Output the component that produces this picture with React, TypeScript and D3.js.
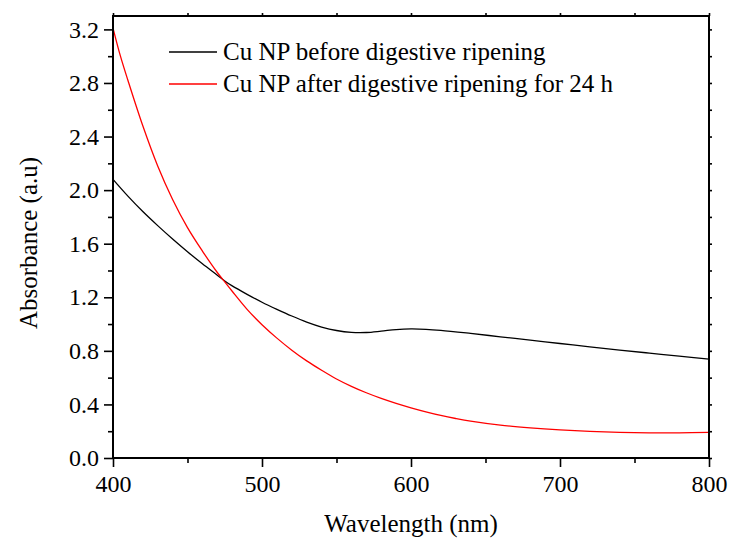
import React, { useEffect, useRef } from "react";
import * as d3 from "d3";

// wavelength (nm) and absorbance
const beforeWavelength = [400, 410, 420, 430, 440, 450, 460, 470, 475, 480, 490, 500, 510, 520, 530, 540, 550, 560, 570, 580, 590, 600, 610, 620, 640, 660, 680, 700, 720, 740, 760, 780, 800];
const beforeAbsorbance = [2.08, 1.955, 1.84, 1.735, 1.635, 1.54, 1.45, 1.365, 1.322, 1.285, 1.222, 1.163, 1.11, 1.06, 1.015, 0.978, 0.952, 0.938, 0.937, 0.947, 0.959, 0.964, 0.961, 0.953, 0.93, 0.905, 0.88, 0.855, 0.83, 0.806, 0.783, 0.76, 0.738];

const afterWavelength = [400, 405, 410, 420, 430, 440, 450, 460, 470, 475, 480, 490, 500, 510, 520, 530, 540, 550, 560, 570, 580, 590, 600, 610, 620, 630, 640, 660, 680, 700, 720, 740, 760, 780, 800];
const afterAbsorbance = [3.21, 3.0, 2.82, 2.48, 2.18, 1.93, 1.72, 1.545, 1.385, 1.315, 1.245, 1.11, 0.995, 0.895, 0.805, 0.725, 0.655, 0.59, 0.535, 0.487, 0.445, 0.408, 0.375, 0.345, 0.318, 0.295, 0.275, 0.245, 0.225, 0.21, 0.199, 0.192, 0.188, 0.188, 0.192];

const xTicks = [400, 500, 600, 700, 800];
const xMinorTicks = [450, 550, 650, 750];
const yTicks = [0, 0.4, 0.8, 1.2, 1.6, 2.0, 2.4, 2.8, 3.2];
const yMinorTicks = [0.2, 0.6, 1.0, 1.4, 1.8, 2.2, 2.6, 3.0];

const seriesNames = ["Cu NP before digestive ripening", "Cu NP after digestive ripening for 24 h"];
const seriesColors = ["#000000", "#ff0000"];

const App = () => {
  const svgRef = useRef<SVGSVGElement>(null);

  useEffect(() => {
    const svg = d3.select(svgRef.current);
    svg.selectAll("*").remove();

    const width = 734;
    const height = 543;
    const margin = { top: 16, right: 25, bottom: 85, left: 113 };
    const font = "'Times New Roman', 'Liberation Serif', serif";

    const xScale = d3.scaleLinear().domain([400, 800]).range([margin.left, width - margin.right]);
    const yScale = d3.scaleLinear().domain([0, 3.3]).range([height - margin.bottom, margin.top]);

    const line = d3
      .line<[number, number]>()
      .x((d) => xScale(d[0]))
      .y((d) => yScale(d[1]))
      .curve(d3.curveCatmullRom.alpha(0.5));

    const series = [
      d3.zip(beforeWavelength, beforeAbsorbance) as [number, number][],
      d3.zip(afterWavelength, afterAbsorbance) as [number, number][],
    ];

    series.forEach((pts, i) => {
      svg
        .append("path")
        .datum(pts)
        .attr("d", line)
        .attr("fill", "none")
        .attr("stroke", seriesColors[i])
        .attr("stroke-width", 1.3);
    });

    const x0 = xScale(400);
    const x1 = xScale(800);
    const y0 = yScale(0);
    const y1 = yScale(3.3);

    // bottom axis
    const bottom = svg.append("g").attr("transform", `translate(0, ${y0})`);
    bottom.call(
      d3.axisBottom(xScale).tickValues(xTicks).tickSize(9).tickSizeOuter(0).tickPadding(8)
    );
    bottom.append("g").call(
      d3.axisBottom(xScale).tickValues(xMinorTicks).tickSize(5).tickFormat(() => "")
    );

    // left axis
    const left = svg.append("g").attr("transform", `translate(${x0}, 0)`);
    left.call(
      d3.axisLeft(yScale).tickValues(yTicks).tickSize(9).tickSizeOuter(0).tickPadding(5).tickFormat(d3.format(".1f"))
    );
    left.append("g").call(
      d3.axisLeft(yScale).tickValues(yMinorTicks).tickSize(5).tickFormat(() => "")
    );

    // top and right mirror ticks
    svg
      .append("g")
      .attr("transform", `translate(0, ${y1})`)
      .call(d3.axisTop(xScale).tickValues([...xTicks, ...xMinorTicks]).tickSize(3).tickFormat(() => ""));
    svg
      .append("g")
      .attr("transform", `translate(${x1}, 0)`)
      .call(d3.axisRight(yScale).tickValues([...yTicks, ...yMinorTicks]).tickSize(3).tickFormat(() => ""));

    svg.selectAll(".domain").remove();
    svg.selectAll(".tick line").attr("stroke", "#000").attr("stroke-width", 1.6);
    svg
      .selectAll(".tick text")
      .style("font-family", font)
      .attr("font-size", 24)
      .attr("fill", "#000");

    // frame
    svg
      .append("rect")
      .attr("x", x0)
      .attr("y", y1)
      .attr("width", x1 - x0)
      .attr("height", y0 - y1)
      .attr("fill", "none")
      .attr("stroke", "#000")
      .attr("stroke-width", 2);

    // axis labels
    svg
      .append("text")
      .attr("x", (x0 + x1) / 2)
      .attr("y", 532)
      .attr("text-anchor", "middle")
      .style("font-family", font)
      .attr("font-size", 25)
      .text("Wavelength (nm)");

    svg
      .append("text")
      .attr("transform", `translate(37, 243) rotate(-90)`)
      .attr("text-anchor", "middle")
      .style("font-family", font)
      .attr("font-size", 25)
      .text("Absorbance (a.u)");

    // legend
    const legend = svg.append("g");
    seriesNames.forEach((name, i) => {
      const ly = 52 + i * 32;
      legend
        .append("line")
        .attr("x1", 169)
        .attr("x2", 217)
        .attr("y1", ly)
        .attr("y2", ly)
        .attr("stroke", seriesColors[i])
        .attr("stroke-width", 1.3);
      legend
        .append("text")
        .attr("x", 223)
        .attr("y", ly + 8)
        .style("font-family", font)
        .attr("font-size", 25)
        .text(name);
    });
  }, []);

  return (
    <svg
      ref={svgRef}
      width={734}
      height={543}
      style={{ position: "absolute", left: 0, top: 0, background: "#fff" }}
    ></svg>
  );
};

export default App;
